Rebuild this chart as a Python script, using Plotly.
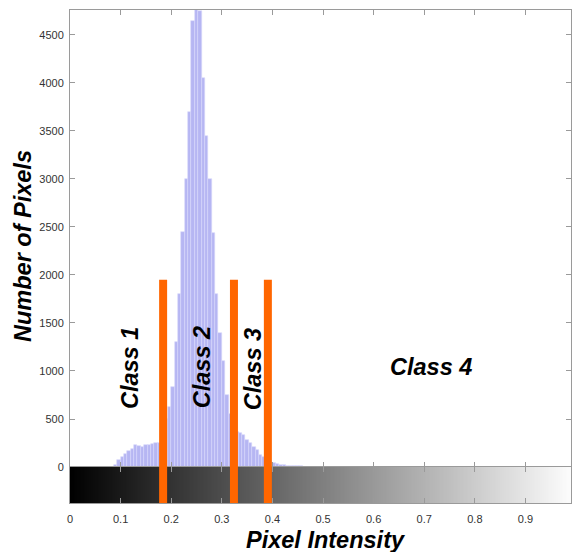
import numpy as np
import plotly.graph_objects as go

# ---- data ----
bin_centers = [0.0900, 0.0967, 0.1033, 0.1100, 0.1167, 0.1233, 0.1300, 0.1367, 0.1433, 0.1500,
               0.1567, 0.1633, 0.1700, 0.1767, 0.1833, 0.1900, 0.1967, 0.2033, 0.2100, 0.2167,
               0.2233, 0.2300, 0.2367, 0.2433, 0.2500, 0.2567, 0.2633, 0.2700, 0.2767, 0.2833,
               0.2900, 0.2967, 0.3033, 0.3100, 0.3167, 0.3233, 0.3300, 0.3367, 0.3433, 0.3500,
               0.3567, 0.3633, 0.3700, 0.3767, 0.3833, 0.3900, 0.3967, 0.4033, 0.4100, 0.4167,
               0.4233, 0.4300, 0.4367, 0.4433, 0.4500, 0.4567, 0.4633, 0.4700]
pixel_counts = [20, 70, 100, 140, 165, 190, 225, 215, 205, 225,
                230, 235, 245, 250, 300, 500, 625, 830, 1300, 1800,
                2450, 3000, 3700, 4650, 5000, 4750, 4050, 3450, 3000, 2440,
                1800, 1400, 1100, 750, 550, 420, 365, 350, 330, 280,
                255, 210, 175, 125, 100, 70, 50, 40, 30, 25,
                20, 15, 15, 10, 10, 8, 5, 5]
bin_width = 1 / 150

thresholds = [0.184, 0.324, 0.391]
threshold_height = 1950

class_labels = ["Class 1", "Class 2", "Class 3", "Class 4"]
class_label_x = [0.1186, 0.261, 0.362, 0.713]
class_label_y = [1031, 1040, 1020, 1040]
class_label_angle = [-90, -90, -90, 0]

y_ticks = [0, 500, 1000, 1500, 2000, 2500, 3000, 3500, 4000, 4500]
x_ticks = [0, 0.1, 0.2, 0.3, 0.4, 0.5, 0.6, 0.7, 0.8, 0.9]
x_tick_labels = ["0", "0.1", "0.2", "0.3", "0.4", "0.5", "0.6", "0.7", "0.8", "0.9"]

x_range = [0, 0.99]
y_max = 4760

# ---- layout geometry ----
W, H = 572, 552
ML, MR, MT, MB = 70, 1, 10, 49
plot_h = H - MT - MB
bar_frac = 36 / plot_h  # gradient strip height as fraction

FONT = "Liberation Sans, Arial, Helvetica, sans-serif"
AXC = "#9a9a9a"

fig = go.Figure()

fig.add_trace(go.Bar(
    x=bin_centers, y=pixel_counts, width=bin_width,
    marker=dict(color="#b6b6f3", line=dict(color="#d8d8fb", width=0.6)),
    xaxis="x", yaxis="y", showlegend=False, hoverinfo="x+y"))

# grayscale intensity strip
gx = np.linspace(0, 1, 400)
fig.add_trace(go.Heatmap(
    x=gx, y=[0, 1], z=[gx, gx],
    colorscale=[[0, "#000000"], [1, "#ffffff"]], zmin=0, zmax=1,
    showscale=False, zsmooth="best", xaxis="x2", yaxis="y2", hoverinfo="skip"))

# threshold bars spanning histogram and strip
for t in thresholds:
    ytop = bar_frac + (1 - bar_frac) * threshold_height / y_max
    fig.add_shape(type="line", xref="x", yref="paper", x0=t, x1=t, y0=0, y1=ytop,
                  line=dict(color="#ff6600", width=8), layer="above")

for txt, lx, ly, ang in zip(class_labels, class_label_x, class_label_y, class_label_angle):
    fig.add_annotation(x=lx, y=ly, xref="x", yref="y", text="<b><i>%s</i></b>" % txt,
                       textangle=ang, showarrow=False, xanchor="center", yanchor="middle",
                       font=dict(family=FONT, size=23.5, color="#000000"))

fig.add_annotation(x=(326 - ML) / (W - ML - MR), y=(MT + plot_h - 540) / plot_h,
                   xref="paper", yref="paper", text="<b><i>Pixel Intensity</i></b>",
                   showarrow=False, xanchor="center", yanchor="middle",
                   font=dict(family=FONT, size=23.5, color="#000000"))
fig.add_annotation(x=(23 - ML) / (W - ML - MR), y=(MT + plot_h - 246) / plot_h,
                   xref="paper", yref="paper", text="<b><i>Number of Pixels</i></b>",
                   textangle=-90, showarrow=False, xanchor="center", yanchor="middle",
                   font=dict(family=FONT, size=23.5, color="#000000"))

axis_common = dict(showline=True, linecolor=AXC, linewidth=1, mirror="ticks",
                   ticks="inside", ticklen=5, tickcolor=AXC, showgrid=False, zeroline=False,
                   tickfont=dict(family=FONT, size=11, color="#333333"))

fig.update_layout(
    width=W, height=H,
    margin=dict(l=ML, r=MR, t=MT, b=MB),
    paper_bgcolor="white", plot_bgcolor="white",
    bargap=0,
    xaxis=dict(domain=[0, 1], anchor="y", range=x_range, tickvals=x_ticks,
               showticklabels=False, **axis_common),
    yaxis=dict(domain=[bar_frac, 1], anchor="x", range=[0, y_max], tickvals=y_ticks,
               ticklabelstandoff=3, **axis_common),
    xaxis2=dict(domain=[0, 1], anchor="y2", range=x_range, tickvals=x_ticks,
                ticktext=x_tick_labels, matches="x", ticklabelstandoff=6, **axis_common),
    yaxis2=dict(domain=[0, bar_frac], anchor="x2", range=[0, 1], showline=True,
                linecolor=AXC, mirror=True, showticklabels=False, ticks="",
                showgrid=False, zeroline=False),
)

fig.write_html("out.html")
